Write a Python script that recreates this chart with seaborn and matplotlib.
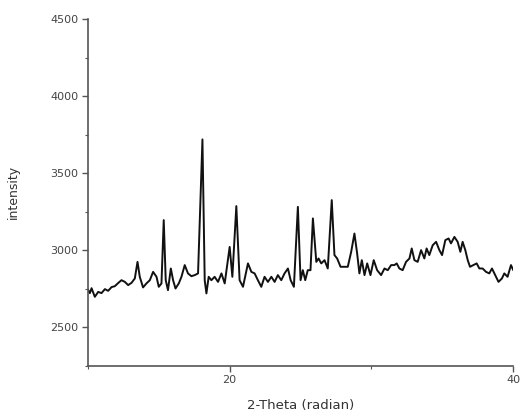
import numpy as np
import pandas as pd
import matplotlib
matplotlib.use("Agg")
import matplotlib.pyplot as plt
import seaborn as sns
from matplotlib.ticker import MultipleLocator

# XRD pattern
theta = [10.0, 10.14, 10.26, 10.49, 10.73, 10.96, 11.20, 11.43, 11.67, 11.90,
         12.13, 12.37, 12.61, 12.84, 13.08, 13.31, 13.50, 13.66, 13.89, 14.13,
         14.37, 14.60, 14.84, 15.00, 15.19, 15.35, 15.49, 15.65, 15.85, 16.01,
         16.18, 16.41, 16.60, 16.83, 17.06, 17.30, 17.54, 17.77, 18.08, 18.24,
         18.36, 18.52, 18.71, 18.94, 19.18, 19.42, 19.65, 20.00, 20.19, 20.47,
         20.70, 20.94, 21.29, 21.53, 21.76, 21.99, 22.23, 22.46, 22.70, 22.94,
         23.17, 23.40, 23.64, 23.87, 24.11, 24.30, 24.53, 24.81, 25.00, 25.16,
         25.33, 25.51, 25.70, 25.87, 26.11, 26.27, 26.46, 26.69, 26.92, 27.20,
         27.39, 27.58, 27.82, 28.33, 28.57, 28.80, 28.99, 29.15, 29.32, 29.51,
         29.70, 29.93, 30.16, 30.40, 30.68, 30.92, 31.15, 31.39, 31.62, 31.78,
         31.97, 32.20, 32.44, 32.68, 32.84, 33.03, 33.26, 33.50, 33.73, 33.89,
         34.08, 34.32, 34.56, 34.79, 34.98, 35.21, 35.44, 35.61, 35.85, 36.08,
         36.27, 36.43, 36.62, 36.79, 36.95, 37.18, 37.42, 37.61, 37.84, 38.08,
         38.31, 38.50, 38.73, 38.96, 39.20, 39.37, 39.60, 39.84, 40.0]
intensity = [2745, 2721, 2753, 2697, 2729, 2721, 2747, 2736, 2760, 2766,
             2786, 2805, 2794, 2773, 2788, 2816, 2924, 2827, 2758, 2784,
             2805, 2859, 2827, 2762, 2784, 3195, 2805, 2740, 2881, 2805,
             2751, 2784, 2827, 2903, 2849, 2831, 2838, 2849, 3719, 2805,
             2719, 2827, 2805, 2827, 2794, 2849, 2784, 3021, 2827, 3286,
             2805, 2762, 2914, 2859, 2849, 2805, 2762, 2827, 2794, 2827,
             2794, 2838, 2805, 2849, 2881, 2805, 2762, 3281, 2805, 2870,
             2805, 2870, 2870, 3206, 2924, 2946, 2914, 2935, 2881, 3325,
             2968, 2946, 2892, 2892, 2989, 3108, 2979, 2849, 2935, 2838,
             2914, 2838, 2935, 2870, 2838, 2881, 2870, 2903, 2903, 2914,
             2881, 2870, 2924, 2946, 3011, 2935, 2924, 3000, 2946, 3011,
             2968, 3032, 3054, 3000, 2968, 3065, 3076, 3044, 3086, 3054,
             2989, 3054, 3000, 2935, 2892, 2903, 2914, 2881, 2881, 2859,
             2849, 2881, 2838, 2794, 2816, 2849, 2827, 2903, 2870]

df = pd.DataFrame({"theta": theta, "intensity": intensity})

sns.set_style("ticks")
plt.rcParams["font.family"] = ["DejaVu Sans"]

fig = plt.figure(figsize=(5.2, 4.16), dpi=100)
ax = fig.add_axes([0.169, 0.121, 0.818, 0.833])

sns.lineplot(data=df, x="theta", y="intensity", color="#111111", linewidth=1.4, ax=ax)

ax.set_xlim(10, 40)
ax.set_ylim(2250, 4500)
ax.xaxis.set_major_locator(MultipleLocator(20))
ax.xaxis.set_minor_locator(MultipleLocator(10))
ax.yaxis.set_major_locator(MultipleLocator(500))
ax.yaxis.set_minor_locator(MultipleLocator(250))

sns.despine(ax=ax)
for side in ["left", "bottom"]:
    ax.spines[side].set_color("#555555")
    ax.spines[side].set_linewidth(1.2)

ax.tick_params(which="major", length=4, width=1, color="#555555",
               labelsize=8, labelcolor="#444444", pad=3)
ax.tick_params(which="minor", length=2.5, width=0.8, color="#555555")

ax.set_xlabel("2-Theta (radian)", fontsize=9.5, color="#333333", labelpad=10)
ax.set_ylabel("intensity", fontsize=9, color="#333333", labelpad=22)

fig.savefig("out.png", dpi=100)
